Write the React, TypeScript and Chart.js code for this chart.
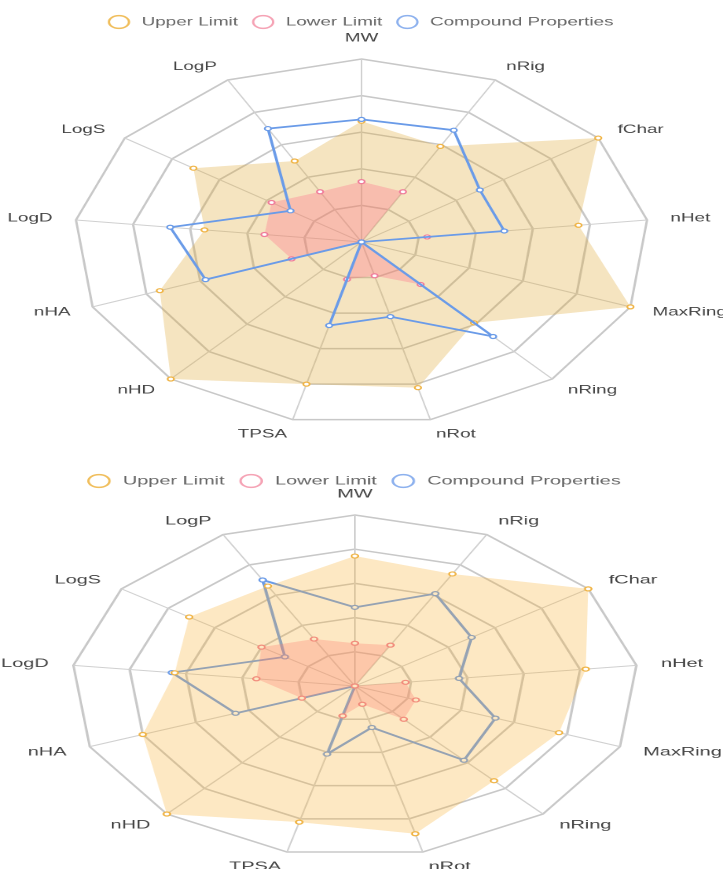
import React, { useEffect, useRef } from 'react';
import { Chart, registerables } from 'chart.js';

Chart.register(...registerables);

// ---- data ----
const categories = ['MW', 'nRig', 'fChar', 'nHet', 'MaxRing', 'nRing', 'nRot', 'TPSA', 'nHD', 'nHA', 'LogD', 'LogS', 'LogP'];
const seriesNames = ['Upper Limit', 'Lower Limit', 'Compound Properties'];

const topUpper = [0.66, 0.59, 1.0, 0.76, 1.0, 0.59, 0.82, 0.8, 1.0, 0.75, 0.55, 0.71, 0.5];
const topLower = [0.33, 0.31, 0, 0.23, 0, 0.31, 0.19, 0.21, 0, 0.26, 0.34, 0.38, 0.31];
const topCompound = [0.67, 0.69, 0.5, 0.5, 0, 0.69, 0.42, 0.47, 0, 0.58, 0.67, 0.3, 0.7];

const bottomUpper = [0.76, 0.74, 1.0, 0.82, 0.77, 0.74, 0.89, 0.82, 1.0, 0.8, 0.64, 0.71, 0.66];
const bottomLower = [0.25, 0.27, 0, 0.18, 0.23, 0.26, 0.11, 0.18, 0, 0.2, 0.35, 0.4, 0.31];
const bottomCompound = [0.46, 0.61, 0.5, 0.37, 0.53, 0.58, 0.25, 0.41, 0, 0.45, 0.65, 0.3, 0.7];

const scaleTicks = [0, 0.2, 0.4, 0.6, 0.8, 1.0];

const legendColors = ['#f0be5c', '#f5a3b5', '#8db1ee'];

Chart.defaults.font.family = "'Liberation Sans', Arial, sans-serif";
Chart.defaults.color = '#666';

const axisNamePlugin = {
  id: 'axisNames',
  afterDraw(chart: any) {
    const scale = chart.scales.r;
    const ctx = chart.ctx;
    const labels: string[] = chart.data.labels;
    const n = labels.length;
    ctx.save();
    ctx.font = "12px 'Liberation Sans', Arial, sans-serif";
    ctx.fillStyle = '#444';
    for (let i = 0; i < n; i++) {
      const p = scale.getPointPosition(i, scale.drawingArea + 15);
      const deg = (i * 360) / n;
      let align: CanvasTextAlign = 'center';
      if (deg > 0.5 && deg < 179.5) align = 'left';
      else if (deg > 180.5 && deg < 359.5) align = 'right';
      let base: CanvasTextBaseline = 'middle';
      if (deg < 0.5) base = 'bottom';
      ctx.textAlign = align;
      ctx.textBaseline = base;
      ctx.fillText(labels[i], p.x, p.y);
    }
    ctx.restore();
  },
};

type BlockProps = {
  top: number;
  width: number;
  height: number;
  padLeft: number;
  padRight: number;
  upper: number[];
  lower: number[];
  compound: number[];
  upperFill: string;
  orders: number[];
};

function RadarBlock(props: BlockProps) {
  const ref = useRef<HTMLCanvasElement>(null);
  useEffect(() => {
    if (!ref.current) return;
    const chart = new Chart(ref.current, {
      type: 'radar',
      data: {
        labels: categories,
        datasets: [
          {
            label: seriesNames[0],
            data: props.upper,
            backgroundColor: props.upperFill,
            borderColor: 'rgba(0,0,0,0)',
            borderWidth: 0,
            fill: true,
            pointBackgroundColor: '#fff',
            pointBorderColor: '#f0b445',
            pointBorderWidth: 1.2,
            pointRadius: 2,
            order: props.orders[0],
          },
          {
            label: seriesNames[1],
            data: props.lower,
            backgroundColor: 'rgba(255,99,132,0.3)',
            borderColor: 'rgba(0,0,0,0)',
            borderWidth: 0,
            fill: true,
            pointBackgroundColor: '#fff',
            pointBorderColor: '#f07c9a',
            pointBorderWidth: 1.2,
            pointRadius: 2,
            order: props.orders[1],
          },
          {
            label: seriesNames[2],
            data: props.compound,
            backgroundColor: 'rgba(0,0,0,0)',
            borderColor: '#6a9be8',
            borderWidth: 1.8,
            fill: false,
            pointBackgroundColor: '#fff',
            pointBorderColor: '#6a9be8',
            pointBorderWidth: 1.2,
            pointRadius: 2,
            order: props.orders[2],
          },
        ],
      },
      options: {
        responsive: false,
        animation: false,
        devicePixelRatio: 2,
        events: [],
        layout: { padding: { top: 6, left: props.padLeft, right: props.padRight, bottom: 0 } },
        elements: { line: { tension: 0 } },
        plugins: {
          tooltip: { enabled: false },
          legend: {
            display: true,
            position: 'top',
            labels: {
              usePointStyle: true,
              pointStyle: 'circle',
              boxWidth: 12,
              boxHeight: 9,
              padding: 10,
              color: '#666',
              font: { size: 12 },
              sort: (a: any, b: any) => a.datasetIndex - b.datasetIndex,
              generateLabels: (c: any) => {
                const items = (Chart.defaults as any).plugins.legend.labels.generateLabels(c);
                return items.map((it: any) => ({
                  ...it,
                  text: '\u2009' + it.text,
                  fillStyle: 'rgba(255,255,255,0)',
                  strokeStyle: legendColors[it.datasetIndex],
                  lineWidth: 1.5,
                  pointStyle: 'circle',
                }));
              },
            },
          },
        },
        scales: {
          r: {
            min: scaleTicks[0],
            max: scaleTicks[scaleTicks.length - 1],
            ticks: { display: false, stepSize: scaleTicks[1] - scaleTicks[0] },
            grid: { color: '#c8c8c8', lineWidth: 1.5 },
            angleLines: { color: '#d0d0d0', lineWidth: 1 },
            pointLabels: { display: false },
          },
        },
      },
      plugins: [axisNamePlugin],
    } as any);
    return () => chart.destroy();
  }, []);
  return (
    <div style={{ position: 'absolute', left: 0, top: props.top, width: 723, height: props.height }}>
      <canvas
        ref={ref}
        width={props.width}
        height={props.height}
        style={{ width: '723px', height: props.height + 'px', display: 'block' }}
      />
    </div>
  );
}

export default function App() {
  return (
    <div style={{ position: 'fixed', left: 0, top: 0, width: 723, height: 869, overflow: 'hidden', background: '#fff' }}>
      <RadarBlock
        top={0}
        width={460}
        height={446}
        padLeft={47}
        padRight={47}
        upper={topUpper}
        lower={topLower}
        compound={topCompound}
        upperFill="rgba(225,172,60,0.32)"
        orders={[3, 2, 1]}
      />
      <RadarBlock
        top={459}
        width={436}
        height={416}
        padLeft={43}
        padRight={51}
        upper={bottomUpper}
        lower={bottomLower}
        compound={bottomCompound}
        upperFill="rgba(250,178,56,0.3)"
        orders={[0, 0, 0]}
      />
    </div>
  );
}
